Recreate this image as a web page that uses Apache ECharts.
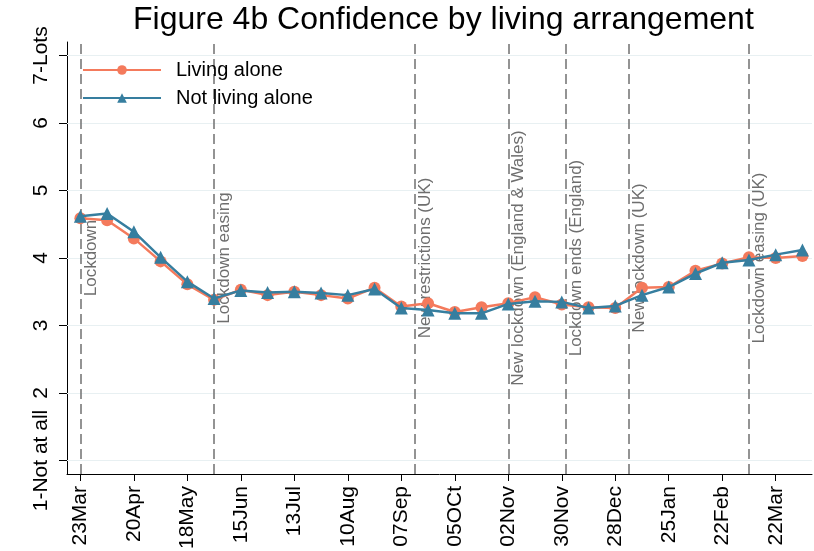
<!DOCTYPE html>
<html lang="en">
<head>
    <meta charset="UTF-8">
    <title>Figure 4b</title>
    <script src="https://cdn.jsdelivr.net/npm/echarts@6/dist/echarts.min.js"></script>
    <style>
        body { margin: 0; background: #fff; }
        #main { width: 814px; height: 551px; }
    </style>
</head>
<body>
    <div id="main"></div>
    <script>
        // fortnightly survey waves
        var dates = ['2020-03-23', '2020-04-06', '2020-04-20', '2020-05-04', '2020-05-18', '2020-06-01',
            '2020-06-15', '2020-06-29', '2020-07-13', '2020-07-27', '2020-08-10', '2020-08-24',
            '2020-09-07', '2020-09-21', '2020-10-05', '2020-10-19', '2020-11-02', '2020-11-16',
            '2020-11-30', '2020-12-14', '2020-12-28', '2021-01-11', '2021-01-25', '2021-02-08',
            '2021-02-22', '2021-03-08', '2021-03-22', '2021-04-05'];
        var livingAlone = [4.59, 4.56, 4.29, 3.95, 3.61, 3.38, 3.53, 3.45, 3.50, 3.45, 3.40, 3.56, 3.28, 3.33,
            3.20, 3.27, 3.33, 3.42, 3.31, 3.27, 3.26, 3.56, 3.57, 3.81, 3.92, 4.01, 4.00, 4.03];
        var notLivingAlone = [4.62, 4.66, 4.39, 4.01, 3.65, 3.40, 3.52, 3.49, 3.50, 3.48, 3.45, 3.54, 3.26, 3.23,
            3.18, 3.18, 3.32, 3.36, 3.35, 3.26, 3.29, 3.45, 3.57, 3.77, 3.93, 3.97, 4.05, 4.12];

        var tickDates = ['2020-03-23', '2020-04-20', '2020-05-18', '2020-06-15', '2020-07-13', '2020-08-10',
            '2020-09-07', '2020-10-05', '2020-11-02', '2020-11-30', '2020-12-28', '2021-01-25',
            '2021-02-22', '2021-03-22'];
        var tickLabels = ['23Mar', '20Apr', '18May', '15Jun', '13Jul', '10Aug', '07Sep', '05OCt', '02Nov',
            '30Nov', '28Dec', '25Jan', '22Feb', '22Mar'];

        var eventDates = ['2020-03-23', '2020-06-01', '2020-09-14', '2020-11-02', '2020-12-02', '2021-01-04', '2021-03-08'];
        var eventLabels = ['Lockdown', 'Lockdown easing', 'New restrictions (UK)', 'New lockdown (England & Wales)',
            'Lockdown ends (England)', 'New lockdown (UK)', 'Lockdown easing (UK)'];

        var yTicks = [1, 2, 3, 4, 5, 6, 7];
        var yLabels = ['1-Not at all', '2', '3', '4', '5', '6', '7-Lots'];

        // dates -> whole days since 23 Mar 2020, on a plain value axis
        var DAY = 86400000;
        var t0 = Date.UTC(2020, 2, 23);
        var day = s => {
            var p = s.split('-');
            return Math.round((Date.UTC(+p[0], +p[1] - 1, +p[2]) - t0) / DAY);
        };
        var tickDays = tickDates.map(day);

        var myChart = echarts.init(document.getElementById('main'));
        var font = 'Liberation Sans, Arial, sans-serif';

        option = {
            animation: false,
            textStyle: { fontFamily: font },
            title: {
                text: 'Figure 4b Confidence by living arrangement',
                left: 133,
                top: 4,
                padding: 0,
                textStyle: { fontSize: 32, fontWeight: 'normal', color: '#000', fontFamily: font }
            },
            legend: {
                data: ['Living alone', 'Not living alone'],
                orient: 'vertical',
                left: 82,
                top: 60,
                padding: 0,
                itemWidth: 78,
                itemHeight: 12,
                itemGap: 8,
                textStyle: { fontSize: 20, color: '#000', fontFamily: font, padding: [0, 0, 0, 10] }
            },
            grid: { left: 67, right: 2, top: 42, bottom: 77, outerBoundsMode: 'none' },
            xAxis: {
                type: 'value',
                min: day('2020-03-16'),
                max: day('2021-04-10'),
                splitLine: { show: false },
                axisLine: { onZero: false, lineStyle: { color: '#000', width: 1 } },
                axisTick: { customValues: tickDays, length: 7, lineStyle: { color: '#000' } },
                axisLabel: {
                    customValues: tickDays,
                    rotate: 90,
                    margin: 12,
                    fontSize: 21,
                    color: '#000',
                    fontFamily: font,
                    formatter: function (v) {
                        var i = tickDays.indexOf(v);
                        return i >= 0 ? tickLabels[i] : '';
                    }
                }
            },
            yAxis: {
                type: 'value',
                min: 0.8,
                max: 7.2,
                splitLine: { show: false },
                axisLine: { show: true, onZero: false, lineStyle: { color: '#000', width: 1 } },
                axisTick: { show: true, customValues: yTicks, length: 8, lineStyle: { color: '#000' } },
                axisLabel: {
                    customValues: yTicks,
                    rotate: 90,
                    margin: 15,
                    fontSize: 21,
                    color: '#000',
                    fontFamily: font,
                    formatter: function (v) {
                        var i = yTicks.indexOf(v);
                        return i >= 0 ? yLabels[i] : '';
                    }
                }
            },
            series: [
                {
                    name: 'grid',
                    type: 'line',
                    data: [],
                    markLine: {
                        silent: true,
                        symbol: 'none',
                        z: 1,
                        label: { show: false },
                        lineStyle: { color: '#e8f0f2', width: 1.2, type: 'solid' },
                        data: yTicks.map(v => ({ yAxis: v }))
                    }
                },
                {
                    name: 'events',
                    type: 'line',
                    data: [],
                    markLine: {
                        silent: true,
                        symbol: 'none',
                        z: 1,
                        lineStyle: { color: '#707070', width: 1.5, type: [10, 5] },
                        label: {
                            position: 'insideMiddleBottom',
                            distance: 2,
                            fontSize: 17,
                            color: '#6e6e6e',
                            fontFamily: font
                        },
                        data: eventDates.map((d, i) => ({ xAxis: day(d), label: { formatter: eventLabels[i] } }))
                    }
                },
                {
                    name: 'Living alone',
                    type: 'line',
                    z: 3,
                    data: dates.map((d, i) => [day(d), livingAlone[i]]),
                    symbol: 'circle',
                    symbolSize: 12,
                    itemStyle: { color: '#F47A5C' },
                    lineStyle: { color: '#F47A5C', width: 2.5 }
                },
                {
                    name: 'Not living alone',
                    type: 'line',
                    z: 4,
                    data: dates.map((d, i) => [day(d), notLivingAlone[i]]),
                    symbol: 'triangle',
                    symbolSize: 13,
                    itemStyle: { color: '#367E9F' },
                    lineStyle: { color: '#367E9F', width: 2.5 }
                }
            ]
        };

        myChart.setOption(option);
    </script>
</body>
</html>
